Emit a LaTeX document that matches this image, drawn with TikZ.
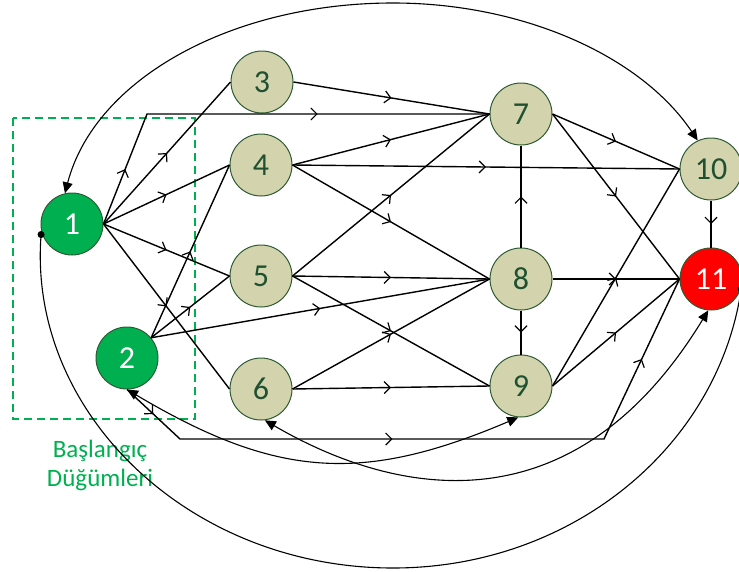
\documentclass[tikz,border=0pt]{standalone}
\usepackage{fontspec}
\setmainfont{Carlito}
\usetikzlibrary{arrows.meta,decorations.markings}
\definecolor{startgreen}{HTML}{00B050}
\definecolor{nodefill}{HTML}{D3D4AD}
\definecolor{nodeedge}{HTML}{2F5B34}
\definecolor{numtext}{HTML}{1F5130}
\tikzset{
  barb/.tip={Straight Barb[length=6pt,width=12pt,line width=1.2pt]},
  headtip/.tip={Triangle[length=11pt,width=10pt]},
  dottip/.tip={Circle[length=7pt,width=7pt]},
}
\begin{document}
\begin{tikzpicture}[x=1pt,y=-1pt,
  vertex/.style={circle,draw=nodeedge,line width=1pt,fill=nodefill,
    minimum size=62pt,inner sep=0pt,text=numtext,font=\fontsize{32}{32}\selectfont},
  startv/.style={vertex,fill=startgreen,text=white},
  endv/.style={vertex,fill=red,text=white},
  link/.style={line width=1.4pt,black},
  midarrow/.style={link,postaction={decorate},
    decoration={markings,mark=at position 0.5 with {\arrow{barb}}}},
  bothheads/.style={line width=1.1pt,black,{headtip}-{headtip}},
  bothdots/.style={line width=1.1pt,black,{dottip}-{dottip}},
]
\useasboundingbox (0,0) rectangle (739,571);

% group of start vertices
\draw[startgreen,line width=1.4pt,dash pattern=on 8pt off 5pt] (13,118) rectangle (195,419);
\node[text=startgreen,align=center,font=\fontsize{25}{29}\selectfont] (startlabel) at (100,465) {Başlangıç\\Düğümleri};

% vertices
\node[startv] (1) at (72,224) {1};
\node[startv] (2) at (127,358) {2};
\node[vertex] (3) at (262,82) {3};
\node[vertex] (4) at (261,165) {4};
\node[vertex] (5) at (261,276) {5};
\node[vertex] (6) at (261,389) {6};
\node[vertex] (7) at (521,114) {7};
\node[vertex] (8) at (521,279) {8};
\node[vertex] (9) at (521,386) {9};
\node[vertex] (10) at (711,169) {10};
\node[endv] (11) at (711,279) {11};

% bend points of the routed edges
\coordinate (c17) at (147,114);
\coordinate (c2a) at (180,439);
\coordinate (c2b) at (604,439);

% straight edges
\draw[midarrow] (1.east) -- (3.west);
\draw[midarrow] (1.east) -- (4.west);
\draw[midarrow] (1.east) -- (5.west);
\draw[midarrow] (1.east) -- (6.west);
\draw[midarrow] (2.40) -- (4.west);
\draw[midarrow] (2.40) -- (5.west);
\draw[midarrow] (2.40) -- (8.west);
\draw[midarrow] (3.east) -- (7.west);
\draw[midarrow] (4.east) -- (7.west);
\draw[midarrow] (4.east) -- (10.west);
\draw[midarrow] (4.east) -- (8.west);
\draw[midarrow] (5.east) -- (7.west);
\draw[midarrow] (5.east) -- (8.west);
\draw[midarrow] (5.east) -- (9.west);
\draw[midarrow] (6.east) -- (8.west);
\draw[midarrow] (6.east) -- (9.west);
\draw[midarrow] (7.east) -- (10.west);
\draw[midarrow] (7.east) -- (11.west);
\draw[midarrow] (8.north) -- (7.south);
\draw[midarrow] (8.east) -- (11.west);
\draw[midarrow] (8.south) -- (9.north);
\draw[midarrow] (9.east) -- (10.west);
\draw[midarrow] (9.east) -- (11.west);
\draw[midarrow] (10.south) -- (11.north);

% routed edges with a marker on every segment
\draw[link,postaction={decorate},decoration={markings,
    mark=at position 59pt with {\arrow{barb}},
    mark=at position 289pt with {\arrow{barb}}}]
  (1.east) -- (c17) -- (7.west);
\draw[link,postaction={decorate},decoration={markings,
    mark=at position 36pt with {\arrow{barb}},
    mark=at position 285pt with {\arrow{barb}},
    mark=at position 585pt with {\arrow{barb}}}]
  (2.south) -- (c2a) -- (c2b) -- (11.west);

% curved links
\draw[bothheads] (1.103) .. controls (95,78) and (233,3) .. (393,3)
  .. controls (523,3) and (641,56) .. (10.115);
\draw[bothdots] (1.193) .. controls (29,414) and (190,568) .. (393,568)
  .. controls (570,568) and (716,449) .. (11.-12);
\draw[bothheads] (2.south) .. controls (276,478) and (362,484) .. (9.-95);
\draw[bothheads] (6.-83) .. controls (386,491) and (569,539) .. (11.-95);
\end{tikzpicture}
\end{document}
